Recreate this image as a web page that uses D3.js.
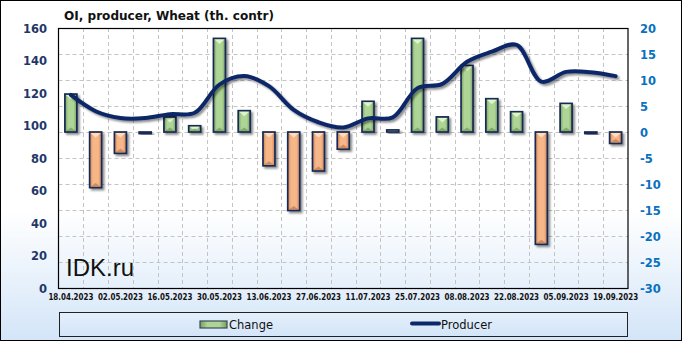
<!DOCTYPE html>
<html><head><meta charset="utf-8">
<script src="https://cdn.jsdelivr.net/npm/d3@7"></script>
<style>body{margin:0;background:#fff}svg{display:block}</style>
</head><body>
<script>
const categories = ["18.04.2023","25.04.2023","02.05.2023","09.05.2023","16.05.2023","23.05.2023","30.05.2023","06.06.2023","13.06.2023","20.06.2023","27.06.2023","04.07.2023","11.07.2023","18.07.2023","25.07.2023","01.08.2023","08.08.2023","15.08.2023","22.08.2023","29.08.2023","05.09.2023","12.09.2023","19.09.2023"];
const change = [7.3,-10.7,-4.1,-0.3,2.9,1.2,18.0,4.1,-6.5,-15.1,-7.5,-3.3,5.9,0.4,18.0,2.9,12.8,6.4,3.9,-21.6,5.5,-0.3,-2.2];
const producer = [118.8,108.8,104.6,104.6,107.0,107.8,125.2,130.4,124.2,109.6,102.0,98.8,104.4,105.0,123.0,125.6,139.2,145.4,149.6,127.0,133.0,132.8,130.4];
const leftTicks = [0,20,40,60,80,100,120,140,160];
const rightTicks = [-30,-25,-20,-15,-10,-5,0,5,10,15,20];
const title = "OI, producer, Wheat (th. contr)";
const seriesNames = ["Change","Producer"];

const W=682,H=341, L=58.5, R=628, T=28, B=288;
const svg = d3.select("body").append("svg").attr("width",W).attr("height",H);
const defs = svg.append("defs");
const bg = defs.append("linearGradient").attr("id","bg").attr("x1",0).attr("y1",0).attr("x2",0).attr("y2",1);
bg.append("stop").attr("offset","0%").attr("stop-color","#ffffff");
bg.append("stop").attr("offset","62%").attr("stop-color","#ffffff");
bg.append("stop").attr("offset","100%").attr("stop-color","#d3e5f8");
const lg = defs.append("linearGradient").attr("id","lg").attr("x1",0).attr("y1",0).attr("x2",0).attr("y2",1);
lg.append("stop").attr("offset","0%").attr("stop-color","#e4effb");
lg.append("stop").attr("offset","100%").attr("stop-color","#d3e5f8");
function barGrad(id,edge,mid){
  const g = defs.append("linearGradient").attr("id",id).attr("x1",0).attr("y1",0).attr("x2",1).attr("y2",0);
  g.append("stop").attr("offset","0%").attr("stop-color",edge);
  g.append("stop").attr("offset","28%").attr("stop-color",mid);
  g.append("stop").attr("offset","72%").attr("stop-color",mid);
  g.append("stop").attr("offset","100%").attr("stop-color",edge);
}
barGrad("gpos","#779f5e","#aed596");
barGrad("gneg","#cc8455","#f7b688");
const sh = defs.append("filter").attr("id","sh").attr("x","-50%").attr("y","-50%").attr("width","200%").attr("height","200%");
sh.append("feGaussianBlur").attr("in","SourceAlpha").attr("stdDeviation",1.3).attr("result","b");
sh.append("feOffset").attr("in","b").attr("dx",1.5).attr("dy",2).attr("result","o");
sh.append("feComponentTransfer").attr("in","o").attr("result","o2").append("feFuncA").attr("type","linear").attr("slope",0.45);
const mg = sh.append("feMerge"); mg.append("feMergeNode").attr("in","o2"); mg.append("feMergeNode").attr("in","SourceGraphic");

svg.append("rect").attr("x",0.5).attr("y",0.5).attr("width",W-1).attr("height",H-1).attr("fill","url(#bg)").attr("stroke","#000");

const x = d3.scaleBand().domain(categories).range([L,R]).padding(0);
const yL = d3.scaleLinear().domain([0,160]).range([B,T]);
const yR = d3.scaleLinear().domain([-30,20]).range([B,T]);

// grid
const grid = svg.append("g").attr("stroke","#c4c4c4").attr("stroke-dasharray","4,3").attr("stroke-width",1);
categories.slice(1).forEach(c=>{
  const gx = Math.round(x(c))+0.5;
  grid.append("line").attr("x1",gx).attr("x2",gx).attr("y1",T).attr("y2",B);
});
rightTicks.slice(1,-1).forEach(v=>{
  const gy = Math.round(yR(v))+0.5;
  grid.append("line").attr("x1",L).attr("x2",R).attr("y1",gy).attr("y2",gy);
});

// IDK.ru
svg.append("text").attr("x",66).attr("y",276).attr("font-family","Liberation Sans, Arial, sans-serif")
  .attr("font-size",24).attr("fill","#111").text("IDK.ru");

// bars
const bw = 12;
const bars = svg.append("g");
categories.forEach((c,i)=>{
  const v = change[i];
  const cx = x(c)+x.bandwidth()/2;
  const y0 = yR(0), y1 = yR(v);
  const top = Math.min(y0,y1), h = Math.max(Math.abs(y1-y0),0.8);
  const g = bars.append("g").attr("filter","url(#sh)");
  g.append("rect").attr("x",cx-bw/2).attr("y",top).attr("width",bw).attr("height",h)
    .attr("fill",v>=0?"url(#gpos)":"url(#gneg)").attr("stroke","#172a55").attr("stroke-width",1.7);
  if (h>6){
    const tri = Math.min(bw/2-1.5, h/2);
    g.append("path").attr("d",`M${cx-bw/2+1},${top+1}L${cx+bw/2-1},${top+1}L${cx},${top+1+tri}Z`)
      .attr("fill",v>=0?"#e0f5cc":"#fde0c4").attr("opacity",0.95);
    g.append("path").attr("d",`M${cx-bw/2+1},${top+h-1}L${cx+bw/2-1},${top+h-1}L${cx},${top+h-1-tri*0.8}Z`)
      .attr("fill",v>=0?"#6a9352":"#bb7349").attr("opacity",0.65);
  }
});

// line
const line = d3.line().x((d,i)=>x(categories[i])+x.bandwidth()/2).y(d=>yL(d)).curve(d3.curveCatmullRom.alpha(0.5));
svg.append("path").datum(producer).attr("d",line).attr("fill","none").attr("stroke","#0c2868")
  .attr("stroke-width",4).attr("stroke-linecap","round").attr("filter","url(#sh)");

// plot border
svg.append("rect").attr("x",L).attr("y",T+0.5).attr("width",R-L).attr("height",B-T).attr("fill","none").attr("stroke","#000").attr("stroke-width",1.2);

// left axis labels
const la = svg.append("g").attr("font-family","DejaVu Sans, Verdana, sans-serif").attr("font-weight","bold")
  .attr("font-size",11.5).attr("fill","#1f3768").attr("text-anchor","end");
leftTicks.forEach(v=>la.append("text").attr("x",47).attr("y",yL(v)+4.5).text(v));
// right axis labels
const ra = svg.append("g").attr("font-family","DejaVu Sans, Verdana, sans-serif").attr("font-weight","bold")
  .attr("font-size",11.5).attr("fill","#0a70c0").attr("text-anchor","start");
rightTicks.forEach(v=>ra.append("text").attr("x",640).attr("y",yR(v)+4.5).text(v));
// x labels
const xa = svg.append("g").attr("font-family","DejaVu Sans, Verdana, sans-serif").attr("font-weight","bold")
  .attr("font-size",8).attr("fill","#111").attr("text-anchor","middle");
categories.forEach((c,i)=>{ if(i%2===0) xa.append("text").attr("x",x(c)+x.bandwidth()/2).attr("y",300)
  .attr("textLength",45).attr("lengthAdjust","spacingAndGlyphs").text(c); });

// title
svg.append("text").attr("x",64).attr("y",20).attr("font-family","DejaVu Sans, Verdana, sans-serif")
  .attr("font-weight","bold").attr("font-size",12).attr("fill","#111")
  .attr("textLength",210).attr("lengthAdjust","spacingAndGlyphs").text(title);

// legend
svg.append("rect").attr("x",59.5).attr("y",312.5).attr("width",568).attr("height",24).attr("fill","url(#lg)").attr("stroke","#222");
const lgG = svg.append("g").attr("font-family","DejaVu Sans, Verdana, sans-serif").attr("font-size",11.5).attr("fill","#111");
lgG.append("rect").attr("x",200).attr("y",321).attr("width",27).attr("height",7).attr("fill","url(#gpos)").attr("stroke","#3a4a5a").attr("stroke-width",1.2);
lgG.append("text").attr("x",229).attr("y",328.5).text(seriesNames[0]);
lgG.append("line").attr("x1",412).attr("x2",439).attr("y1",323.5).attr("y2",323.5).attr("stroke","#0c2868").attr("stroke-width",4).attr("stroke-linecap","round");
lgG.append("text").attr("x",441).attr("y",328.5).text(seriesNames[1]);
</script>
</body></html>
